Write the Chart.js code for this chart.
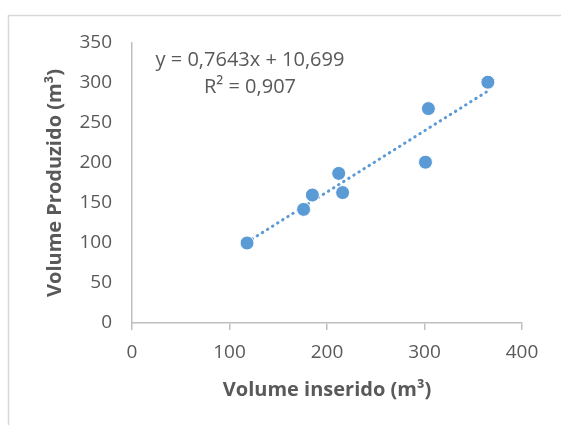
<!DOCTYPE html>
<html>
  <head>
    <meta charset="utf-8" />
    <title>Volume inserido x Volume Produzido</title>
    <script src="https://cdn.jsdelivr.net/npm/chart.js@4"></script>
    <style>
      html, body { margin: 0; padding: 0; background: #ffffff; }
      #wrap { position: relative; width: 561px; height: 425px; }
    </style>
  </head>
  <body>
    <div id="wrap">
      <canvas id="scatterCanvas" width="561" height="425"></canvas>
    </div>
    <script>
      // Values
      const volumeInserido = [118, 176, 185, 212, 216, 301, 304, 365];
      const volumeProduzido = [100, 142, 160, 187, 163, 201, 268, 301];

      // Trendline ends as drawn (y = 0,7643x + 10,699)
      const trendX = [118, 365];
      const trendY = [101, 290];

      const equationLines = ["y = 0,7643x + 10,699", "R² = 0,907"];

      const xTitle = "Volume inserido (m³)";
      const yTitle = "Volume Produzido (m³)";

      const blue = "#5B9BD5";
      const textGray = "#595959";
      const axisGray = "#BFBFBF";
      const fontFamily = "'Open Sans', sans-serif";

      const points = volumeInserido.map((x, i) => ({ x: x, y: volumeProduzido[i] }));
      const trend = trendX.map((x, i) => ({ x: x, y: trendY[i] }));

      // light frame round the chart, and the equation label
      const framePlugin = {
        id: "frame",
        beforeDraw(chart) {
          const c = chart.ctx;
          c.save();
          c.strokeStyle = "#D9D9D9";
          c.lineWidth = 1.5;
          c.strokeRect(8.5, 15.5, 700, 600);
          c.restore();
        },
        afterDatasetsDraw(chart) {
          const c = chart.ctx;
          c.save();
          c.fillStyle = textGray;
          c.font = "20px " + fontFamily;
          c.textAlign = "center";
          c.textBaseline = "middle";
          c.fillText(equationLines[0], 250, 60);
          c.fillText(equationLines[1], 250, 87);
          c.restore();
        },
      };

      const ctx = document.getElementById("scatterCanvas").getContext("2d");
      new Chart(ctx, {
        type: "scatter",
        data: {
          datasets: [
            {
              data: points,
              backgroundColor: blue,
              borderColor: "#ffffff",
              borderWidth: 1,
              pointRadius: 7,
              order: 0,
            },
            {
              data: trend,
              showLine: true,
              borderColor: blue,
              borderWidth: 3,
              borderDash: [0.5, 5.5],
              borderCapStyle: "round",
              pointRadius: 0,
              order: 1,
            },
          ],
        },
        options: {
          responsive: false,
          animation: false,
          layout: { padding: { left: 0, right: 39, top: 43, bottom: 0 } },
          plugins: {
            legend: { display: false },
            tooltip: { enabled: false },
          },
          scales: {
            x: {
              type: "linear",
              min: 0,
              max: 400,
              ticks: {
                stepSize: 100,
                color: textGray,
                font: { family: fontFamily, size: 19 },
                padding: 11,
                maxRotation: 0,
              },
              grid: {
                drawOnChartArea: false,
                drawTicks: true,
                tickLength: 7,
                color: axisGray,
                lineWidth: 1.5,
              },
              border: { color: axisGray, width: 1.5 },
              title: {
                display: true,
                text: xTitle,
                color: textGray,
                font: { family: fontFamily, size: 20, weight: "bold" },
                padding: { top: 23, bottom: 23 },
              },
              afterFit(scale) {
                scale.height = 102;
              },
            },
            y: {
              type: "linear",
              min: 0,
              max: 350,
              ticks: {
                stepSize: 50,
                color: textGray,
                font: { family: fontFamily, size: 19 },
                padding: 20,
              },
              grid: { display: false, drawTicks: false },
              border: { color: axisGray, width: 1.5 },
              title: {
                display: true,
                text: yTitle,
                color: textGray,
                font: { family: fontFamily, size: 20, weight: "bold" },
                padding: { top: 43, bottom: 0 },
              },
              afterFit(scale) {
                scale.width = 132;
              },
            },
          },
        },
        plugins: [framePlugin],
      });
    </script>
  </body>
</html>
